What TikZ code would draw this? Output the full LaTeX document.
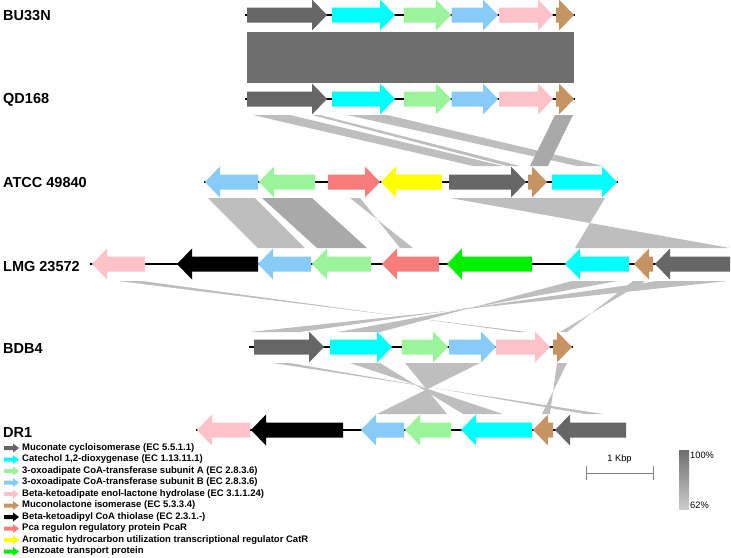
\documentclass[tikz,border=0pt]{standalone}
\usepackage{fontspec}
\setmainfont{Liberation Sans}
\usetikzlibrary{positioning,calc}
\definecolor{mucgray}{HTML}{666666}
\definecolor{catcyan}{HTML}{00FFFF}
\definecolor{subagreen}{HTML}{9AF59A}
\definecolor{subbblue}{HTML}{87CBF8}
\definecolor{hydpink}{HTML}{FFC2C8}
\definecolor{isobrown}{HTML}{C69463}
\definecolor{pcared}{HTML}{F87C7C}
\definecolor{catryellow}{HTML}{FFFF00}
\definecolor{benlime}{HTML}{00F000}
\definecolor{bandtop}{HTML}{6E6E6E}
\definecolor{bandlight}{HTML}{BEBEBE}
\definecolor{banddark}{HTML}{A9A9A9}

% gene arrows: start x, end x, track y, colour
\newcommand{\generight}[4]{\fill[#4] (#1,{#3-7.5}) -- ({#2-15},{#3-7.5}) -- ({#2-15},{#3-15.5}) -- (#2,#3) -- ({#2-15},{#3+15.5}) -- ({#2-15},{#3+7.5}) -- (#1,{#3+7.5}) -- cycle;}
\newcommand{\geneleft}[4]{\fill[#4] (#2,{#3-7.5}) -- ({#1+15},{#3-7.5}) -- ({#1+15},{#3-15.5}) -- (#1,#3) -- ({#1+15},{#3+15.5}) -- ({#1+15},{#3+7.5}) -- (#2,{#3+7.5}) -- cycle;}
% blast band: colour, top a, top b, top y, bottom c, bottom d, bottom y
\newcommand{\band}[7]{\fill[#1] (#2,#4) -- (#3,#4) -- (#6,#7) -- (#5,#7) -- cycle;}

\begin{document}
\begin{tikzpicture}[
    x=1pt, y=-1pt,
    strain/.style={anchor=west, inner sep=0pt, font=\fontsize{14.5}{16}\selectfont\bfseries},
    legtext/.style={anchor=west, inner sep=0pt, font=\fontsize{9.5}{11}\selectfont\bfseries},
    small/.style={inner sep=0pt, font=\fontsize{9.3}{11}\selectfont},
    track/.style={line width=1.6pt},
    scalebar/.style={draw=gray, line width=0.7pt}
]
\useasboundingbox (0,0) rectangle (731,557);

% strain labels
\node[strain] (bu) at (3,15.5) {BU33N};
\node[strain] (qd) at (3,100) {QD168};
\node[strain] (atcc) at (3,183) {ATCC 49840};
\node[strain] (lmg) at (3,267) {LMG 23572};
\node[strain] (bdb) at (3,348.5) {BDB4};
\node[strain] (dr) at (3,432.5) {DR1};

% similarity bands
\band{bandtop}{247}{574}{32}{247}{574}{83}
\band{bandlight}{253}{290}{115}{473}{503}{166}
\band{bandlight}{312}{320}{115}{507}{520}{166}
\band{bandlight}{347}{387}{115}{577}{603}{166}
\band{banddark}{555}{573}{115}{530}{548}{166}
\band{bandlight}{208}{255}{198}{258}{305}{248}
\band{banddark}{262}{312}{198}{317}{367}{248}
\band{bandlight}{350}{360}{198}{413}{400}{248}
\band{bandlight}{450}{605}{198}{730}{575}{248}
\band{bandlight}{118}{142}{281}{527}{517}{332}
\band{bandlight}{657}{728}{281}{300}{250}{332}
\band{bandlight}{572}{618}{281}{380}{338}{332}
\band{bandlight}{633}{645}{281}{567}{560}{332}
\band{bandlight}{405}{480}{363}{447}{377}{414}
\band{bandlight}{273}{290}{363}{603}{585}{414}
\band{bandlight}{350}{380}{363}{503}{463}{414}
\band{bandlight}{557}{567}{363}{550}{542}{414}

% BU33N
\draw[track] (245,15) -- (575,15);
\generight{247}{327}{15}{mucgray}
\generight{332}{395}{15}{catcyan}
\generight{404}{451}{15}{subagreen}
\generight{451.5}{498}{15}{subbblue}
\generight{499}{553}{15}{hydpink}
\generight{556}{574}{15}{isobrown}

% QD168
\draw[track] (245,99) -- (575,99);
\generight{247}{327}{99}{mucgray}
\generight{332}{395}{99}{catcyan}
\generight{404}{451}{99}{subagreen}
\generight{451.5}{498}{99}{subbblue}
\generight{499}{553}{99}{hydpink}
\generight{556}{574}{99}{isobrown}

% ATCC 49840
\draw[track] (204,182) -- (618,182);
\geneleft{205}{258}{182}{subbblue}
\geneleft{259}{315}{182}{subagreen}
\generight{328}{380}{182}{pcared}
\geneleft{381}{442}{182}{catryellow}
\generight{449}{526}{182}{mucgray}
\generight{528}{547}{182}{isobrown}
\generight{552}{617}{182}{catcyan}

% LMG 23572
\draw[track, line width=1.2pt] (90,264) -- (730,264);
\geneleft{92}{145}{264}{hydpink}
\geneleft{177}{258}{264}{black}
\geneleft{258}{311}{264}{subbblue}
\geneleft{312}{371}{264}{subagreen}
\geneleft{382}{439}{264}{pcared}
\geneleft{447}{532}{264}{benlime}
\geneleft{565}{629}{264}{catcyan}
\geneleft{634}{653}{264}{isobrown}
\geneleft{655}{730}{264}{mucgray}

% BDB4
\draw[track] (249,347) -- (573,347);
\generight{254}{324}{347}{mucgray}
\generight{330}{392}{347}{catcyan}
\generight{402}{448}{347}{subagreen}
\generight{449}{496}{347}{subbblue}
\generight{496}{550}{347}{hydpink}
\generight{553}{572}{347}{isobrown}

% DR1
\draw[track] (196,430) -- (626,430);
\geneleft{197}{250}{430}{hydpink}
\geneleft{251}{343}{430}{black}
\geneleft{361}{404}{430}{subbblue}
\geneleft{405}{451}{430}{subagreen}
\geneleft{461}{532}{430}{catcyan}
\geneleft{533}{553}{430}{isobrown}
\geneleft{555}{626}{430}{mucgray}

% legend
\foreach \i/\col/\txt in {
    0/mucgray/{Muconate cycloisomerase (EC 5.5.1.1)},
    1/catcyan/{Catechol 1,2-dioxygenase (EC 1.13.11.1)},
    2/subagreen/{3-oxoadipate CoA-transferase subunit A (EC 2.8.3.6)},
    3/subbblue/{3-oxoadipate CoA-transferase subunit B (EC 2.8.3.6)},
    4/hydpink/{Beta-ketoadipate enol-lactone hydrolase (EC 3.1.1.24)},
    5/isobrown/{Muconolactone isomerase (EC 5.3.3.4)},
    6/black/{Beta-ketoadipyl CoA thiolase (EC 2.3.1.-)},
    7/pcared/{Pca regulon regulatory protein PcaR},
    8/catryellow/{Aromatic hydrocarbon utilization transcriptional regulator CatR},
    9/benlime/{Benzoate transport protein}} {
  \pgfmathsetmacro{\ly}{448+11.5*\i}
  \fill[\col] (4,\ly-2) -- (13,\ly-2) -- (13,\ly-4.5) -- (19,\ly) -- (13,\ly+4.5) -- (13,\ly+2) -- (4,\ly+2) -- cycle;
  \node[legtext] (leg\i) at (22,\ly) {\txt};
}

% scale bar
\coordinate (kb0) at (586,473);
\coordinate (kb1) at (653,473);
\draw[scalebar] (kb0) -- (kb1);
\draw[scalebar] ([yshift=7pt]kb0) -- ([yshift=-7pt]kb0);
\draw[scalebar] ([yshift=7pt]kb1) -- ([yshift=-7pt]kb1);
\node[small, above=9pt of $(kb0)!0.5!(kb1)$] (kbp) {1 Kbp};

% identity key
\shade[top color=bandtop, bottom color=black!20] (679,450) rectangle (689,509);
\node[small, anchor=west] (top) at (690,455) {100\%};
\node[small, anchor=west] (bot) at (690,505) {62\%};
\end{tikzpicture}
\end{document}
